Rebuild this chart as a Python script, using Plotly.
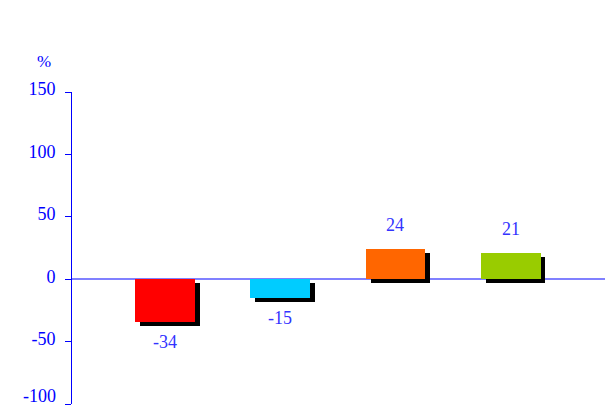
import plotly.graph_objects as go

# Category slots and percentage changes
categories = ["A", "B", "C", "D"]
values = [-34, -15, 24, 21]
bar_colors = ["#FF0000", "#00CCFF", "#FF6600", "#99CC00"]
label_text = ["-34", "-15", "24", "21"]

# the lowest tick label sits above its tick so it stays inside the page
tick_vals = [-100, -50, 0, 50, 100, 150]
tick_text = ["", "-50", "0", "50", "100", "150"]
bottom_tick_label = "-100"

serif = "Liberation Serif, Times New Roman, serif"
blue = "#0000FF"

fig = go.Figure()

# drop shadow behind each bar
fig.add_trace(go.Bar(
    x=categories, y=values, base=-3.2,
    width=0.52, offset=-0.217,
    marker=dict(color="#000000", line=dict(width=0)),
    hoverinfo="skip", showlegend=False,
))
# coloured bars
fig.add_trace(go.Bar(
    x=categories, y=values,
    width=0.52, offset=-0.26,
    marker=dict(color=bar_colors, line=dict(width=0)),
    showlegend=False,
))

for c, v, t in zip(categories, values, label_text):
    fig.add_annotation(
        x=c, y=v, text=t, showarrow=False,
        yanchor="bottom" if v >= 0 else "top",
        yshift=12 if v >= 0 else -8,
        font=dict(family=serif, size=18, color="#3333FF"),
    )

fig.add_annotation(
    xref="paper", yref="y", x=0, y=tick_vals[0],
    text=bottom_tick_label, showarrow=False,
    xanchor="right", yanchor="bottom", xshift=-14, yshift=-4,
    font=dict(family=serif, size=18, color=blue),
)

fig.add_annotation(
    xref="paper", yref="paper", x=-0.052, y=1.06,
    text="%", showarrow=False, xanchor="center", yanchor="bottom",
    font=dict(family=serif, size=17, color=blue),
)

fig.update_layout(
    width=612, height=412,
    margin=dict(l=72, r=7, t=92, b=8, autoexpand=False),
    paper_bgcolor="white", plot_bgcolor="white",
    bargap=0, barmode="overlay",
    xaxis=dict(
        range=[-0.81, 3.82], showticklabels=False, showgrid=False,
        zeroline=False, showline=False, ticks="", automargin=False,
    ),
    yaxis=dict(
        range=[-100, 150], tickvals=tick_vals, ticktext=tick_text,
        showgrid=False, showline=True, linecolor=blue, linewidth=1,
        ticks="outside", ticklen=6, tickcolor=blue, automargin=False,
        ticklabelstandoff=6, ticklabelshift=-3, ticklabeloverflow="allow",
        zeroline=True, zerolinecolor="#8080FF", zerolinewidth=2,
        tickfont=dict(family=serif, size=18, color=blue),
    ),
)

fig.write_html("out.html")
